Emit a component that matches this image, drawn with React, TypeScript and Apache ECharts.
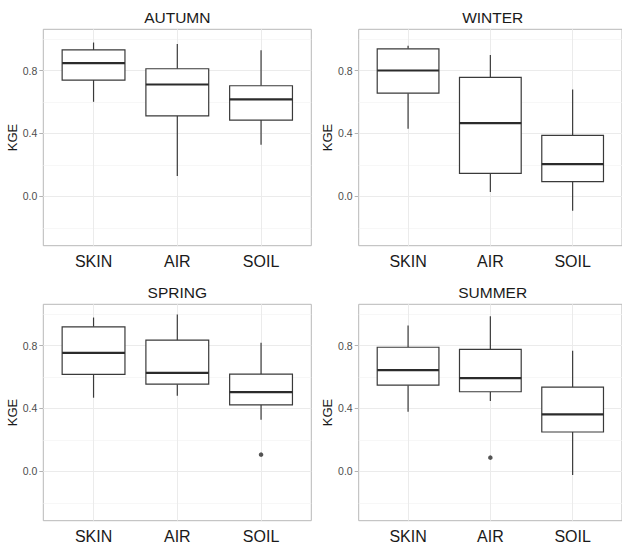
import React, { useEffect, useRef } from "react";
import * as echarts from "echarts";

// ---------- data ----------
const categories = ["SKIN", "AIR", "SOIL"];
const seasons = ["AUTUMN", "WINTER", "SPRING", "SUMMER"];
// each box: [lower whisker, Q1, median, Q3, upper whisker]
const autumnBoxes = [
  [0.601, 0.739, 0.847, 0.931, 0.978],
  [0.129, 0.512, 0.711, 0.811, 0.969],
  [0.328, 0.485, 0.616, 0.703, 0.929],
];
const winterBoxes = [
  [0.43, 0.656, 0.8, 0.938, 0.957],
  [0.028, 0.146, 0.466, 0.756, 0.899],
  [-0.091, 0.093, 0.205, 0.387, 0.679],
];
const springBoxes = [
  [0.468, 0.616, 0.753, 0.919, 0.978],
  [0.48, 0.554, 0.626, 0.834, 0.997],
  [0.328, 0.423, 0.504, 0.618, 0.817],
];
const summerBoxes = [
  [0.379, 0.548, 0.643, 0.789, 0.927],
  [0.447, 0.506, 0.593, 0.775, 0.986],
  [-0.023, 0.25, 0.362, 0.535, 0.766],
];
// outliers: [category position (1-based), value]
const autumnOutliers: number[][] = [];
const winterOutliers: number[][] = [];
const springOutliers = [[3, 0.106]];
const summerOutliers = [[2, 0.087]];

const yTickValues = [0, 0.4, 0.8];
const yMinorValues = [-0.2, 0.2, 0.6, 1.0];
const xTickValues = [1, 2, 3];

const Y_MIN = -0.314;
const Y_MAX = 1.062;
const X_MIN = 0.4;
const X_MAX = 3.6;

const boxesBySeason = [autumnBoxes, winterBoxes, springBoxes, summerBoxes];
const outliersBySeason = [autumnOutliers, winterOutliers, springOutliers, summerOutliers];

const FONT = "'Liberation Sans', Arial, Helvetica, sans-serif";
const STROKE = "#3a3a3a";

function renderBox(_params: any, api: any) {
  const x = api.value(0);
  const low = api.value(1);
  const q1 = api.value(2);
  const med = api.value(3);
  const q3 = api.value(4);
  const high = api.value(5);
  const w = api.size([0.75, 0])[0];
  const pHigh = api.coord([x, high]);
  const pQ3 = api.coord([x, q3]);
  const pMed = api.coord([x, med]);
  const pQ1 = api.coord([x, q1]);
  const pLow = api.coord([x, low]);
  const cx = pMed[0];
  const line = { stroke: STROKE, lineWidth: 1.2 };
  return {
    type: "group",
    children: [
      { type: "line", shape: { x1: cx, y1: pHigh[1], x2: cx, y2: pQ3[1] }, style: line },
      { type: "line", shape: { x1: cx, y1: pQ1[1], x2: cx, y2: pLow[1] }, style: line },
      {
        type: "rect",
        shape: { x: cx - w / 2, y: pQ3[1], width: w, height: pQ1[1] - pQ3[1] },
        style: { fill: "#ffffff", stroke: STROKE, lineWidth: 1.2 },
      },
      {
        type: "line",
        shape: { x1: cx - w / 2, y1: pMed[1], x2: cx + w / 2, y2: pMed[1] },
        style: { stroke: "#2b2b2b", lineWidth: 2.2 },
      },
    ],
  };
}

export default function App() {
  const ref = useRef<HTMLDivElement>(null);

  useEffect(() => {
    document.body.style.margin = "0";
    if (!ref.current) return;
    const chart = echarts.init(ref.current, undefined, { renderer: "svg" });

    const panelLefts = [43.3, 358.7, 43.3, 358.7];
    const panelTops = [29.3, 29.3, 304.3, 304.3];
    const panelW = 268;
    const panelH = 216.4;

    const grids: any[] = [];
    const xAxes: any[] = [];
    const yAxes: any[] = [];
    const series: any[] = [];
    const graphics: any[] = [];

    seasons.forEach((season, i) => {
      grids.push({
        left: panelLefts[i],
        top: panelTops[i],
        width: panelW,
        height: panelH,
        show: true,
        backgroundColor: "#ffffff",
        borderColor: "#b8b8b8",
        borderWidth: 1,
      });
      xAxes.push({
        type: "value",
        gridIndex: i,
        min: X_MIN,
        max: X_MAX,
        axisLine: { show: false },
        splitLine: { show: false },
        axisTick: {
          show: true,
          customValues: xTickValues,
          length: 4,
          lineStyle: { color: "#b3b3b3" },
        },
        axisLabel: {
          customValues: xTickValues,
          formatter: (v: number) => categories[Math.round(v) - 1] ?? "",
          fontSize: 16,
          fontFamily: FONT,
          color: "#1a1a1a",
          margin: 8,
        },
      });
      yAxes.push({
        type: "value",
        gridIndex: i,
        min: Y_MIN,
        max: Y_MAX,
        name: "KGE",
        nameLocation: "middle",
        nameGap: 24,
        nameTextStyle: { fontSize: 13, fontFamily: FONT, color: "#1a1a1a" },
        axisLine: { show: false },
        splitLine: { show: false },
        axisTick: {
          show: true,
          customValues: yTickValues,
          length: 4,
          lineStyle: { color: "#b3b3b3" },
        },
        axisLabel: {
          customValues: yTickValues,
          formatter: (v: number) => v.toFixed(1),
          fontSize: 10.5,
          fontFamily: FONT,
          color: "#4d4d4d",
          margin: 6,
        },
      });

      // gridlines
      series.push({
        type: "line",
        xAxisIndex: i,
        yAxisIndex: i,
        data: [],
        z: 1,
        silent: true,
        markLine: {
          silent: true,
          z: 1,
          symbol: ["none", "none"],
          label: { show: false },
          animation: false,
          data: [
            ...yTickValues.map((v) => ({ yAxis: v, lineStyle: { color: "#ebebeb", width: 1, type: "solid" } })),
            ...yMinorValues.map((v) => ({ yAxis: v, lineStyle: { color: "#f4f4f4", width: 0.7, type: "solid" } })),
            ...xTickValues.map((v) => ({ xAxis: v, lineStyle: { color: "#ebebeb", width: 1, type: "solid" } })),
          ],
        },
      });

      series.push({
        type: "custom",
        xAxisIndex: i,
        yAxisIndex: i,
        z: 6,
        renderItem: renderBox,
        encode: { x: 0, y: [1, 2, 3, 4, 5] },
        data: boxesBySeason[i].map((b, k) => [k + 1, ...b]),
      });

      series.push({
        type: "scatter",
        xAxisIndex: i,
        yAxisIndex: i,
        z: 7,
        symbol: "circle",
        symbolSize: 4.5,
        itemStyle: { color: "#2b2b2b" },
        data: outliersBySeason[i],
      });

      graphics.push({
        type: "text",
        x: panelLefts[i] + panelW / 2,
        y: panelTops[i] - 19.5,
        style: {
          text: season,
          font: `15.5px ${FONT}`,
          fill: "#1a1a1a",
          textAlign: "center",
          textVerticalAlign: "top",
        },
      });
    });

    chart.setOption({
      animation: false,
      backgroundColor: "#ffffff",
      grid: grids,
      xAxis: xAxes,
      yAxis: yAxes,
      series,
      graphic: graphics,
    });

    return () => chart.dispose();
  }, []);

  return <div ref={ref} style={{ width: 622, height: 547 }} />;
}
